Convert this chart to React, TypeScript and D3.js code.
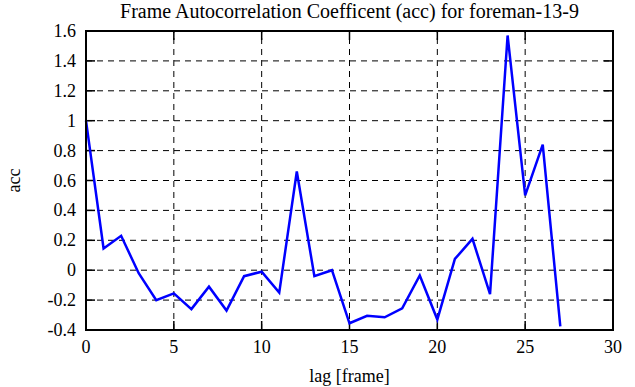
import React from 'react';
import * as d3 from 'd3';

// lag (frames) and autocorrelation coefficient
const lags = [0, 1, 2, 3, 4, 5, 6, 7, 8, 9, 10, 11, 12, 13, 14, 15, 16, 17, 18, 19, 20, 21, 22, 23, 24, 25, 26, 27];
const accValues = [
    1.0, 0.145, 0.23, -0.02, -0.2, -0.155, -0.26, -0.11, -0.27, -0.04, -0.01, -0.15, 0.66, -0.04, 0.0,
    -0.355, -0.305, -0.315, -0.255, -0.035, -0.33, 0.075, 0.21, -0.16, 1.57, 0.5, 0.84, -0.375,
];
const xTicks = [0, 5, 10, 15, 20, 25, 30];
const yTicks = [-0.4, -0.2, 0, 0.2, 0.4, 0.6, 0.8, 1, 1.2, 1.4, 1.6];

const width = 635;
const height = 387;
const margin = { top: 31, right: 22, bottom: 57, left: 86 };
const font = '"Liberation Serif", "Times New Roman", serif';

export default function App() {
    const x = d3
        .scaleLinear()
        .domain([0, 30])
        .range([margin.left, width - margin.right]);
    const y = d3
        .scaleLinear()
        .domain([-0.4, 1.6])
        .range([height - margin.bottom, margin.top]);

    const line = d3
        .line<number>()
        .x((d, i) => x(lags[i]))
        .y(d => y(d));

    const [x0, x1] = x.range();
    const [y0, y1] = y.range();
    const tickLen = 9;
    const fmt = (v: number) => String(Math.round(v * 10) / 10);

    return (
        <svg width={width} height={height} style={{ position: 'absolute', left: 0, top: 0, background: '#fff' }}>
            <text x={(x0 + x1) / 2} y={18} textAnchor="middle" fontFamily={font} fontSize={20}>
                Frame Autocorrelation Coefficent (acc) for foreman-13-9
            </text>

            {/* grid */}
            <g stroke="#000" strokeWidth={1} strokeDasharray="6,5">
                {xTicks.slice(1, -1).map(t => (
                    <line key={'gx' + t} x1={x(t)} x2={x(t)} y1={y0} y2={y1} />
                ))}
                {yTicks.slice(1, -1).map(t => (
                    <line key={'gy' + t} x1={x0} x2={x1} y1={y(t)} y2={y(t)} />
                ))}
            </g>

            {/* inward ticks on all sides */}
            <g stroke="#000" strokeWidth={1.5}>
                {xTicks.map(t => (
                    <g key={'tx' + t}>
                        <line x1={x(t)} x2={x(t)} y1={y0} y2={y0 - tickLen} />
                        <line x1={x(t)} x2={x(t)} y1={y1} y2={y1 + tickLen} />
                    </g>
                ))}
                {yTicks.map(t => (
                    <g key={'ty' + t}>
                        <line x1={x0} x2={x0 + tickLen} y1={y(t)} y2={y(t)} />
                        <line x1={x1} x2={x1 - tickLen} y1={y(t)} y2={y(t)} />
                    </g>
                ))}
            </g>

            <path d={line(accValues) || ''} fill="none" stroke="#0000ff" strokeWidth={2.5} strokeLinejoin="miter" />

            <rect x={x0} y={y1} width={x1 - x0} height={y0 - y1} fill="none" stroke="#000" strokeWidth={2} />

            <g fontFamily={font} fontSize={18} fill="#000">
                {xTicks.map(t => (
                    <text key={'lx' + t} x={x(t)} y={y0 + 23} textAnchor="middle">
                        {t}
                    </text>
                ))}
                {yTicks.map(t => (
                    <text key={'ly' + t} x={x0 - 10} y={y(t) + 6} textAnchor="end">
                        {fmt(t)}
                    </text>
                ))}
                <text x={(x0 + x1) / 2} y={y0 + 52} textAnchor="middle">
                    lag [frame]
                </text>
                <text transform={`translate(20 ${(y0 + y1) / 2}) rotate(-90)`} textAnchor="middle">
                    acc
                </text>
            </g>
        </svg>
    );
}
